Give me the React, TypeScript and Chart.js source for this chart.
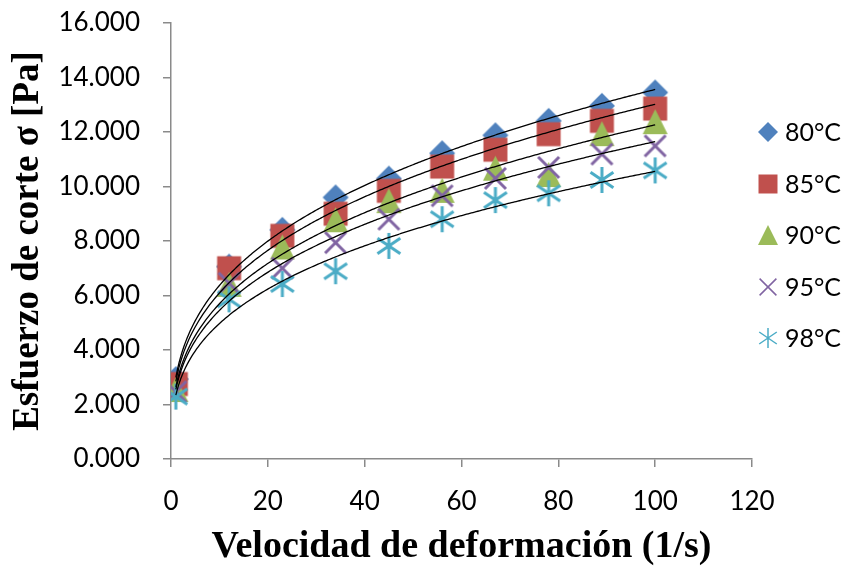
import React, { useEffect, useRef } from "react";
import { Chart, registerables } from "chart.js";

Chart.register(...registerables);

// ---- data ----
const shearRates = [1, 12, 23, 34, 45, 56, 67, 78, 89, 100];
const stress80 = [2.93, 7.06, 8.41, 9.6, 10.29, 11.22, 11.88, 12.41, 12.96, 13.45];
const stress85 = [2.75, 7.0, 8.19, 9.0, 9.84, 10.73, 11.35, 11.92, 12.41, 12.86];
const stress90 = [2.55, 6.41, 7.78, 8.78, 9.48, 9.86, 10.67, 10.44, 11.94, 12.38];
const stress95 = [2.47, 6.45, 7.0, 7.94, 8.8, 9.66, 10.3, 10.7, 11.19, 11.49];
const stress98 = [2.29, 5.86, 6.42, 6.89, 7.82, 8.8, 9.5, 9.75, 10.24, 10.59];

const seriesLabels = ["80°C", "85°C", "90°C", "95°C", "98°C"];
const seriesValues = [stress80, stress85, stress90, stress95, stress98];
const seriesColors = ["#4F81BD", "#C0504D", "#9BBB59", "#8064A2", "#4BACC6"];
const markerKinds = ["diamond", "square", "triangle", "x", "asterisk"];

const xTickValues = [0, 20, 40, 60, 80, 100, 120];
const yTickValues = [0, 2, 4, 6, 8, 10, 12, 14, 16];

const xTitle = "Velocidad de deformación (1/s)";
const yTitle = "Esfuerzo de corte σ [Pa]";

// ---- helpers ----
function makeMarker(kind: string, size: number, color: string, lw: number) {
  const pad = 3;
  const c = document.createElement("canvas");
  c.width = size + pad * 2;
  c.height = size + pad * 2;
  const g = c.getContext("2d")!;
  g.translate(pad, pad);
  g.fillStyle = color;
  g.strokeStyle = color;
  g.lineWidth = lw;
  const s = size;
  g.beginPath();
  if (kind === "diamond") {
    g.moveTo(s / 2, 0);
    g.lineTo(s, s / 2);
    g.lineTo(s / 2, s);
    g.lineTo(0, s / 2);
    g.closePath();
    g.fill();
  } else if (kind === "square") {
    g.rect(0.5, 0.5, s - 1, s - 1);
    g.fill();
  } else if (kind === "triangle") {
    g.moveTo(s / 2, 0);
    g.lineTo(s, s);
    g.lineTo(0, s);
    g.closePath();
    g.fill();
  } else if (kind === "x") {
    g.moveTo(0.08 * s, 0.08 * s);
    g.lineTo(0.92 * s, 0.92 * s);
    g.moveTo(0.92 * s, 0.08 * s);
    g.lineTo(0.08 * s, 0.92 * s);
    g.stroke();
  } else {
    g.moveTo(0.06 * s, 0.2 * s);
    g.lineTo(0.94 * s, 0.8 * s);
    g.moveTo(0.94 * s, 0.2 * s);
    g.lineTo(0.06 * s, 0.8 * s);
    g.moveTo(s / 2, 0);
    g.lineTo(s / 2, s);
    g.stroke();
  }
  return c;
}

function powerFit(xs: number[], ys: number[]) {
  const lx = xs.map((v) => Math.log(v));
  const ly = ys.map((v) => Math.log(v));
  const n = xs.length;
  const mx = lx.reduce((a, b) => a + b, 0) / n;
  const my = ly.reduce((a, b) => a + b, 0) / n;
  let sxy = 0;
  let sxx = 0;
  for (let i = 0; i < n; i++) {
    sxy += (lx[i] - mx) * (ly[i] - my);
    sxx += (lx[i] - mx) * (lx[i] - mx);
  }
  const b = sxy / sxx;
  const a = Math.exp(my - b * mx);
  return { a, b };
}

export default function App() {
  const ref = useRef<HTMLCanvasElement | null>(null);

  useEffect(() => {
    document.body.style.margin = "0";
    const canvas = ref.current;
    if (!canvas) return;

    const chartMarkers = markerKinds.map((k, i) =>
      makeMarker(k, k === "diamond" || k === "asterisk" ? 26 : 25, seriesColors[i], 3)
    );
    const legendMarkers = markerKinds.map((k, i) =>
      makeMarker(k, 20, seriesColors[i], 1.5)
    );

    const trendPlugin = {
      id: "powerTrend",
      afterDatasetsDraw(chart: any) {
        const { ctx, scales } = chart;
        const xs = scales.x;
        const ys = scales.y;
        ctx.save();
        ctx.strokeStyle = "#000";
        ctx.lineWidth = 1.3;
        const x0 = shearRates[0];
        const x1 = shearRates[shearRates.length - 1];
        seriesValues.forEach((vals) => {
          const { a, b } = powerFit(shearRates, vals);
          ctx.beginPath();
          const steps = 300;
          for (let i = 0; i <= steps; i++) {
            const xv = x0 + ((x1 - x0) * i) / steps;
            const yv = a * Math.pow(xv, b);
            const px = xs.getPixelForValue(xv);
            const py = ys.getPixelForValue(yv);
            if (i === 0) ctx.moveTo(px, py);
            else ctx.lineTo(px, py);
          }
          ctx.stroke();
        });
        ctx.restore();
      },
    };

    const legendPlugin = {
      id: "sideLegend",
      afterDraw(chart: any) {
        const { ctx } = chart;
        ctx.save();
        ctx.font = "25px Lato";
        ctx.fillStyle = "#000";
        ctx.textBaseline = "middle";
        ctx.textAlign = "left";
        seriesLabels.forEach((lab, i) => {
          const cy = 132 + i * 51.6;
          const img = legendMarkers[i];
          ctx.drawImage(img, Math.round(768 - img.width / 2), Math.round(cy - img.height / 2));
          ctx.fillText(lab, 785, cy + 1);
        });
        ctx.restore();
      },
    };

    const chart = new Chart(canvas, {
      type: "scatter",
      data: {
        datasets: seriesValues.map((vals, i) => ({
          label: seriesLabels[i],
          data: shearRates.map((x, j) => ({ x, y: vals[j] })),
          pointStyle: chartMarkers[i] as any,
          pointRadius: 13,
          pointHoverRadius: 13,
          backgroundColor: seriesColors[i],
          borderColor: seriesColors[i],
          showLine: false,
          order: seriesValues.length - i,
        })),
      },
      options: {
        animation: false,
        responsive: false,
        maintainAspectRatio: false,
        layout: { padding: { left: 0, top: 23, right: 95, bottom: 0 } },
        plugins: {
          legend: { display: false },
          tooltip: { enabled: false },
        },
        scales: {
          x: {
            type: "linear",
            min: 0,
            max: 120,
            afterBuildTicks: (s: any) => {
              s.ticks = xTickValues.map((v) => ({ value: v }));
            },
            ticks: {
              font: { family: "Lato", size: 26 },
              color: "#000",
              padding: 19,
              callback: (v: any) => String(v),
            },
            grid: {
              display: true,
              drawOnChartArea: false,
              drawTicks: true,
              tickLength: 8,
              color: "#8a8a8a",
              lineWidth: 1.5,
            },
            border: { display: true, color: "#8a8a8a", width: 1.5 },
            title: {
              display: true,
              text: xTitle,
              color: "#000",
              font: { family: "Liberation Serif", size: 38, weight: "bold", lineHeight: 1 },
              padding: { top: 0, bottom: 1 },
            },
            afterFit: (s: any) => {
              s.height = 108;
              s.paddingLeft = 0;
              s.paddingRight = 0;
              s.paddingTop = 0;
              s.paddingBottom = 0;
            },
          },
          y: {
            type: "linear",
            min: 0,
            max: 16,
            afterBuildTicks: (s: any) => {
              s.ticks = yTickValues.map((v) => ({ value: v }));
            },
            ticks: {
              font: { family: "Lato", size: 26 },
              color: "#000",
              padding: 23,
              callback: (v: any) => Number(v).toFixed(3),
            },
            grid: {
              display: true,
              drawOnChartArea: false,
              drawTicks: true,
              tickLength: 8,
              color: "#8a8a8a",
              lineWidth: 1.5,
            },
            border: { display: true, color: "#8a8a8a", width: 1.5 },
            title: {
              display: true,
              text: yTitle,
              color: "#000",
              font: { family: "Liberation Serif", size: 37, weight: "bold", lineHeight: 1 },
              padding: { top: 10, bottom: 0 },
            },
            afterFit: (s: any) => {
              s.width = 171;
              s.paddingTop = 0;
              s.paddingBottom = 0;
              s.paddingLeft = 0;
              s.paddingRight = 0;
            },
          },
        },
      },
      plugins: [trendPlugin, legendPlugin],
    });

    return () => chart.destroy();
  }, []);

  return (
    <div style={{ width: 847, height: 567 }}>
      <canvas ref={ref} width={847} height={567} style={{ display: "block" }} />
    </div>
  );
}
